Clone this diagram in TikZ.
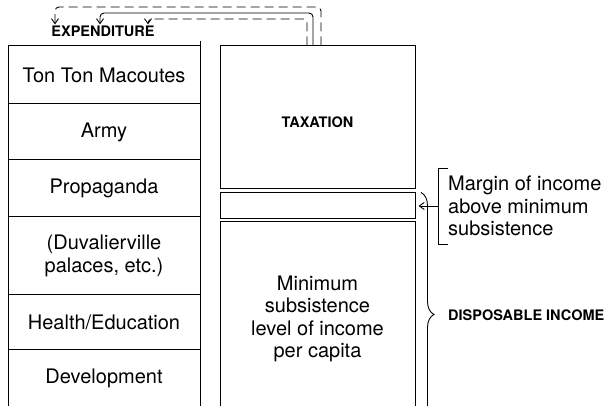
\documentclass[tikz,border=0pt]{standalone}
\usepackage{fontspec}
\setmainfont{TeX Gyre Heros}
\usetikzlibrary{calc}
\usetikzlibrary{arrows.meta}
\usetikzlibrary{decorations.pathreplacing}

\newcommand{\rowfont}{\fontsize{20}{22.5}\selectfont}
\newcommand{\capfont}{\fontsize{14.5}{17}\selectfont\bfseries}

\tikzset{
 frame/.style={black, line width=1pt},
 row/.style={font=\rowfont, align=center},
 caps/.style={font=\capfont, inner sep=1pt},
 panel/.style={draw, line width=1pt, minimum width=195pt, font=\rowfont, align=center},
 money/.style={black, line width=0.9pt, ->, >={Straight Barb[length=5pt, width=7pt]}, rounded corners=4pt},
 gappy/.style={dash pattern=on 9pt off 5pt},
}

\begin{document}
\begin{tikzpicture} [x=1pt, y=1pt]
\useasboundingbox (0,0) rectangle (608,406);
\clip (0,0) rectangle (608,406);
% spending column
\draw[frame] (8,-5) -- (8,360) -- (200,360);
\draw[frame] (200,-5) -- (200,365);
\foreach \y  in  {302,246,189,111,56} {
 \draw[frame] (8,\y) --++(192,0);
}
\node[row] (macoutes) at (104,331) {Ton Ton Macoutes};
\node[row] (army) at (104,274) {Army};
\node[row] (propaganda) at (104,217.5) {Propaganda};
\node[row] (palaces) at (104,150) {(Duvalierville\\palaces, etc.)};
\node[row] (health) at (104,83.5) {Health/Education};
\node[row] (development) at (104,28) {Development};
\node[caps] (exp) at (103,375) {EXPENDITURE};
% income column
\node[panel, minimum height=143pt, text height=21pt] (tax) at (317.5,288.5) {\capfont TAXATION};
\node[panel, minimum height=26pt] (margin) at (317.5,200) {};
\node[panel, minimum height=194pt] (minimum) at (317.5,87) {Minimum\\subsistence\\level of income\\per capita};
% flows back to spending
\draw[money, gappy] ([xshift=3.5pt]tax.north) --++(0,38.5) -| ([xshift=-48pt]exp.north);
\draw[money] ([xshift=-4.5pt]tax.north) --++(0,32.5) -| ([xshift=-3pt]exp.north);
\draw[money, gappy] ([xshift=-10.5pt]tax.north) --++(0,26.5) -| ([xshift=45pt]exp.north);
% labels on the right
\node[row, align=left, anchor=west, inner sep=2pt] (mtext) at (446,200) {Margin of income\\above minimum\\subsistence};
\draw[frame, line width=0.9pt] (mtext.west) ++(2,38) --++(-10,0) --++(0,-76) --++(10,0);
\draw[money, shorten >=3pt] ([xshift=-8pt]mtext.west) -- (margin.east);
\draw[frame, line width=0.9pt, decorate, decoration={brace, amplitude=13pt}] ([xshift=5.5pt]margin.north east) --++(0,-244);
\node[caps, anchor=west] (disp) at (447,91) {DISPOSABLE INCOME};
\end{tikzpicture}
\end{document}
